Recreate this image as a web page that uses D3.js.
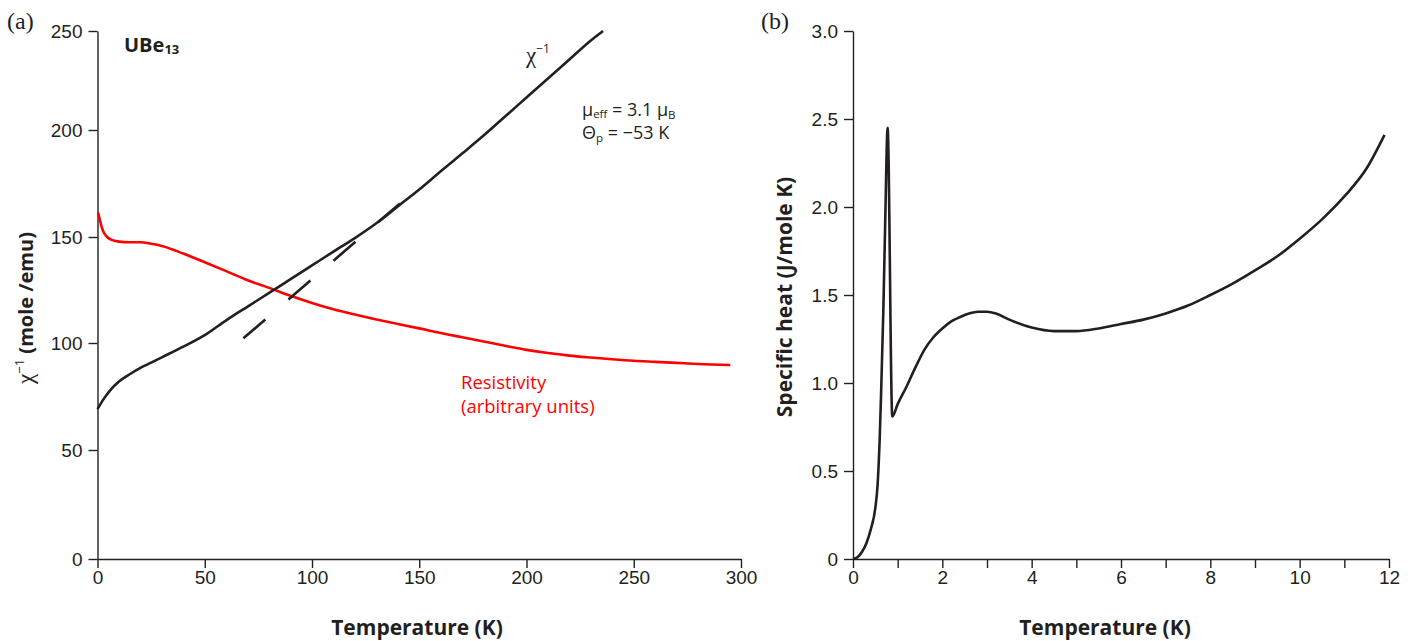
<!DOCTYPE html>
<html><head><meta charset="utf-8">
<script src="https://cdn.jsdelivr.net/npm/d3@7"></script>
<style>
body{margin:0;background:#fff;}
svg{display:block;font-family:"Open Sans","Noto Sans",sans-serif;}
.tick text{font-size:19px;fill:#231f20;}
.tick line,.domain{stroke:#231f20;stroke-width:1.4px;}
</style></head>
<body><svg id="c" width="1411" height="641"></svg>
<script>
// ---- Panel (a): UBe13 inverse susceptibility and resistivity ----
const chiT   = [0,3,6,10,15,20,25,30,40,50,60,70,80,90,100,110,120,130,140,150,160,170,180,190,200,210,220,230,235.7];
const chiV   = [69.1,74,78,82,85.4,88.4,90.8,93.3,98.3,103.7,110.7,117.2,123.6,130.1,136.6,143.1,149.5,156.4,164.3,172.2,180.7,189,197.4,206.8,216.4,226,235.6,245.2,250];
const fitT   = [68,141];
const fitV   = [102.2,165.7];
const resT   = [0.3,1,2,3,4.5,7,10,15,20,25,30,40,50,60,70,80,90,100,110,120,130,140,150,160,170,180,190,200,210,220,230,240,250,260,270,280,295];
const resV   = [161.4,158.4,154.5,152,150,148.5,147.8,147.5,147.5,146.8,145.8,142.2,138.1,133.9,129.6,126,122.3,118.9,115.9,113.4,111.1,109,106.9,104.7,102.7,100.7,98.7,96.8,95.3,94.1,93.2,92.4,91.7,91.2,90.7,90.2,89.7];
const xTicksA = [0,50,100,150,200,250,300];
const yTicksA = [0,50,100,150,200,250];
// ---- Panel (b): specific heat ----
const cT = [0,0.1,0.2,0.3,0.4,0.5,0.55,0.6,0.63,0.68,0.72,0.775,0.88,1.0,1.2,1.4,1.6,1.8,2.0,2.2,2.4,2.6,2.8,3.0,3.2,3.5,4.0,4.5,5.0,5.5,6.0,6.5,7.0,7.5,8.0,8.5,9.0,9.5,10.0,10.5,11.0,11.5,11.9];
const cV = [0,0.01,0.04,0.09,0.17,0.29,0.42,0.7,0.95,1.42,1.9,2.45,0.81,0.88,0.98,1.09,1.19,1.26,1.31,1.35,1.375,1.395,1.405,1.405,1.395,1.36,1.315,1.295,1.295,1.31,1.335,1.36,1.395,1.44,1.5,1.565,1.64,1.72,1.82,1.93,2.06,2.22,2.41];
const xTicksB = [0,1,2,3,4,5,6,7,8,9,10,11,12];
const yTicksB = [0,0.5,1.0,1.5,2.0,2.5,3.0];

const svg = d3.select("#c");
const ink = "#231f20";

const xA = d3.scaleLinear([0,300],[97.5,741]);
const yA = d3.scaleLinear([0,50,100,150,200,250],[559,450,343,237,130,31]);
const xB = d3.scaleLinear([0,12],[853,1389]);
const yB = d3.scaleLinear([0,3],[559,31]);

function axes(x,y,xt,yt,xf,yf){
  svg.append("g").attr("transform",`translate(0,${y(0)})`)
    .call(d3.axisBottom(x).tickValues(xt).tickFormat(xf).tickSize(9).tickSizeOuter(0).tickPadding(3));
  svg.append("g").attr("transform",`translate(${x(0)},0)`)
    .call(d3.axisLeft(y).tickValues(yt).tickFormat(yf).tickSize(9).tickSizeOuter(0).tickPadding(6));
}
axes(xA,yA,xTicksA,yTicksA,d=>d,d=>d);
axes(xB,yB,xTicksB,yTicksB,d=>d%2?"":d,d=>d===0?"0":d.toFixed(1));

// curves
const lineA = (xs,ys)=>d3.line().x((d,i)=>xA(xs[i])).y((d,i)=>yA(ys[i])).curve(d3.curveMonotoneX)(xs);
svg.append("path").attr("d",lineA(resT,resV)).attr("fill","none").attr("stroke","#ff0000").attr("stroke-width",2.6);
svg.append("path").attr("d",lineA(chiT,chiV)).attr("fill","none").attr("stroke",ink).attr("stroke-width",2.6);
svg.append("path").attr("d",d3.line().x((d,i)=>xA(fitT[i])).y((d,i)=>yA(fitV[i]))(fitT))
  .attr("fill","none").attr("stroke",ink).attr("stroke-width",2.6).attr("stroke-dasharray","29,30.5");

svg.append("path").attr("d",d3.line().x((d,i)=>xB(cT[i])).y((d,i)=>yB(cV[i])).curve(d3.curveMonotoneX)(cT))
  .attr("fill","none").attr("stroke",ink).attr("stroke-width",2.6).attr("stroke-linejoin","miter");

// texts
const serif = "'Liberation Serif','DejaVu Serif',serif";
svg.append("text").attr("x",7).attr("y",29).attr("font-family",serif).attr("font-size",24).attr("fill",ink).text("(a)");
svg.append("text").attr("x",761).attr("y",29).attr("font-family",serif).attr("font-size",24).attr("fill",ink).text("(b)");

const ube = svg.append("text").attr("x",124).attr("y",52).attr("font-size",20).attr("font-weight","bold").attr("fill",ink);
ube.append("tspan").text("UBe");
ube.append("tspan").attr("font-size",13).attr("dy",2).text("13");

const chi = svg.append("text").attr("x",526).attr("y",63).attr("font-size",19).attr("fill",ink);
chi.append("tspan").attr("font-family",serif).attr("font-size",23).text("χ");
chi.append("tspan").attr("font-size",12).attr("dy",-10).text("−1");

const m1 = svg.append("text").attr("x",582).attr("y",116).attr("font-size",18).attr("fill",ink);
m1.append("tspan").text("μ");
m1.append("tspan").attr("font-size",11.5).attr("dy",2).text("eff");
m1.append("tspan").attr("dy",-2).text(" = 3.1 μ");
m1.append("tspan").attr("font-size",11.5).attr("dy",3).text("B");
const m2 = svg.append("text").attr("x",582).attr("y",139).attr("font-size",18).attr("fill",ink);
m2.append("tspan").text("Θ");
m2.append("tspan").attr("font-size",11.5).attr("dy",3).text("p");
m2.append("tspan").attr("dy",-3).text("  = −53 K");

svg.append("text").attr("x",461).attr("y",389).attr("font-size",18.5).attr("fill","#ff0000").text("Resistivity");
svg.append("text").attr("x",461).attr("y",413).attr("font-size",18.5).attr("fill","#ff0000").text("(arbitrary units)");

svg.append("text").attr("x",417).attr("y",635).attr("text-anchor","middle").attr("font-size",21).attr("font-weight","bold").attr("fill",ink).text("Temperature (K)");
svg.append("text").attr("x",1105).attr("y",635).attr("text-anchor","middle").attr("font-size",21).attr("font-weight","bold").attr("fill",ink).text("Temperature (K)");

const ya = svg.append("text").attr("transform","translate(33,308) rotate(-90)").attr("text-anchor","middle").attr("font-size",20).attr("font-weight","bold").attr("fill",ink);
ya.append("tspan").attr("font-family",serif).attr("font-weight","normal").attr("font-size",23).text("χ");
ya.append("tspan").attr("font-size",13).attr("font-weight","normal").attr("dy",-9).text("−1");
ya.append("tspan").attr("dy",9).text(" (mole /emu)");

svg.append("text").attr("transform","translate(792,297) rotate(-90)").attr("text-anchor","middle").attr("font-size",21).attr("font-weight","bold").attr("fill",ink).text("Specific heat (J/mole K)");
</script></body></html>
